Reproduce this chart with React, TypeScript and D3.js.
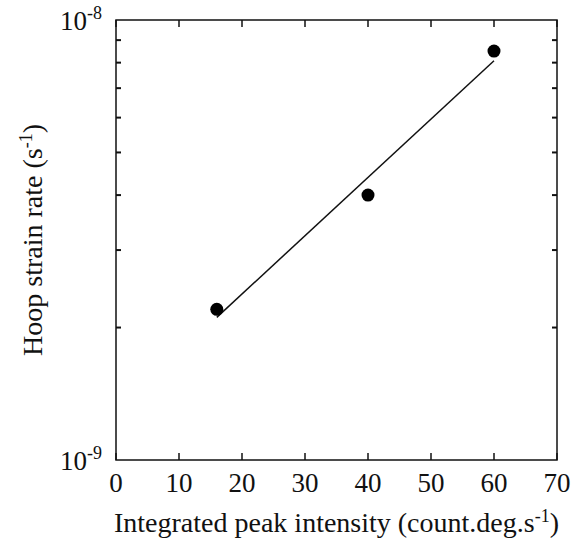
import React from "react";
import * as d3 from "d3";

// Measured points: integrated peak intensity vs. hoop strain rate
const intensity = [16, 40, 60];
const strainRate = [2.2e-9, 4.0e-9, 8.5e-9];

const xTicks = [0, 10, 20, 30, 40, 50, 60, 70];
const yDecades = [
  { value: 1e-9, exp: "-9" },
  { value: 1e-8, exp: "-8" },
];
const yMinor = [2e-9, 3e-9, 4e-9, 5e-9, 6e-9, 7e-9, 8e-9, 9e-9];

const W = 583;
const H = 540;
const margin = { left: 116, right: 26, top: 20, bottom: 80 };
const FONT = "'Liberation Serif', 'Times New Roman', serif";

export default function App() {
  const x = d3
    .scaleLinear()
    .domain([0, 70])
    .range([margin.left, W - margin.right]);
  const y = d3
    .scaleLog()
    .domain([1e-9, 1e-8])
    .range([H - margin.bottom, margin.top]);

  const [x0, x1] = x.range();
  const [yB, yT] = y.range();

  // exponential least-squares fit (linear in log10 of strain rate)
  const ly = strainRate.map((v) => Math.log10(v));
  const mx = d3.mean(intensity) as number;
  const my = d3.mean(ly) as number;
  const sxy = d3.sum(intensity, (v, i) => (v - mx) * (ly[i] - my));
  const sxx = d3.sum(intensity, (v) => (v - mx) * (v - mx));
  const slope = sxy / sxx;
  const fitX = [intensity[0], intensity[intensity.length - 1]];
  const fitPts: [number, number][] = fitX.map((v) => [
    x(v),
    y(Math.pow(10, my + slope * (v - mx))),
  ]);
  const fitLine = d3.line()(fitPts) as string;

  return (
    <svg
      width={W}
      height={H}
      style={{ position: "absolute", left: 0, top: 0, background: "#fff" }}
      fontFamily={FONT}
    >
      {/* frame */}
      <rect
        x={x0}
        y={yT}
        width={x1 - x0}
        height={yB - yT}
        fill="none"
        stroke="#111"
        strokeWidth={1.5}
      />

      {/* x ticks, bottom and top, pointing inward */}
      {xTicks.map((t) => (
        <g key={"xt" + t}>
          <line x1={x(t)} x2={x(t)} y1={yB} y2={yB - 7} stroke="#111" strokeWidth={1.5} />
          <line x1={x(t)} x2={x(t)} y1={yT} y2={yT + 7} stroke="#111" strokeWidth={1.5} />
          <text
            x={x(t)}
            y={yB + 32}
            textAnchor="middle"
            fontSize={27}
            fill="#111"
          >
            {t}
          </text>
        </g>
      ))}

      {/* y minor ticks, left and right */}
      {yMinor.map((t) => (
        <g key={"ym" + t}>
          <line x1={x0} x2={x0 + 5} y1={y(t)} y2={y(t)} stroke="#111" strokeWidth={2} />
          <line x1={x1} x2={x1 - 5} y1={y(t)} y2={y(t)} stroke="#111" strokeWidth={2} />
        </g>
      ))}

      {/* y decade labels */}
      {yDecades.map((d) => (
        <text
          key={"yl" + d.exp}
          x={x0 - 14}
          y={y(d.value) + 10}
          textAnchor="end"
          fontSize={27}
          fill="#111"
        >
          10
          <tspan dy={-11} fontSize={18}>
            {d.exp}
          </tspan>
        </text>
      ))}

      {/* fit line */}
      <path d={fitLine} fill="none" stroke="#111" strokeWidth={1.5} />

      {/* data points */}
      {intensity.map((v, i) => (
        <circle key={"p" + i} cx={x(v)} cy={y(strainRate[i])} r={6.5} fill="#000" />
      ))}

      {/* axis titles */}
      <text
        x={(x0 + x1) / 2}
        y={532}
        textAnchor="middle"
        fontSize={28}
        fill="#111"
      >
        Integrated peak intensity (count.deg.s
        <tspan dy={-10} fontSize={18}>
          -1
        </tspan>
        <tspan dy={10}>)</tspan>
      </text>
      <text
        transform={`translate(42, ${(yB + yT) / 2}) rotate(-90)`}
        textAnchor="middle"
        fontSize={28}
        fill="#111"
      >
        Hoop strain rate (s
        <tspan dy={-10} fontSize={18}>
          -1
        </tspan>
        <tspan dy={10}>)</tspan>
      </text>
    </svg>
  );
}
